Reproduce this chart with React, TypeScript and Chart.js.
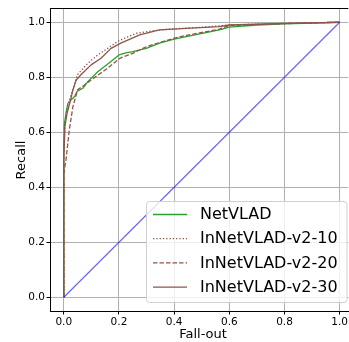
import React, { useEffect, useRef } from "react";
import { Chart, registerables } from "chart.js";

Chart.register(...registerables);

const FONT = "'DejaVu Sans', sans-serif";

const seriesLabels = ["NetVLAD", "InNetVLAD-v2-10", "InNetVLAD-v2-20", "InNetVLAD-v2-30"];

const netvladFpr = [0, 0, 0.002, 0.008, 0.015, 0.026, 0.039, 0.048, 0.069, 0.087, 0.123, 0.171, 0.2, 0.225, 0.25, 0.299, 0.347, 0.4, 0.444, 0.564, 0.6, 0.7, 0.8, 0.9, 1.0];
const netvladTpr = [0, 0.55, 0.63, 0.67, 0.705, 0.717, 0.73, 0.748, 0.76, 0.784, 0.82, 0.857, 0.881, 0.889, 0.893, 0.905, 0.924, 0.939, 0.948, 0.972, 0.982, 0.99, 0.994, 0.997, 1.0];

const v210Fpr = [0, 0, 0.004, 0.015, 0.028, 0.05, 0.087, 0.123, 0.159, 0.195, 0.225, 0.263, 0.347, 0.4, 0.5, 0.6, 0.7, 0.8, 0.9, 1.0];
const v210Tpr = [0, 0.5, 0.63, 0.7, 0.74, 0.81, 0.851, 0.881, 0.905, 0.93, 0.944, 0.96, 0.972, 0.976, 0.982, 0.99, 0.993, 0.996, 0.998, 1.0];

const v220Fpr = [0, 0, 0.008, 0.02, 0.033, 0.05, 0.075, 0.099, 0.159, 0.203, 0.25, 0.299, 0.359, 0.4, 0.444, 0.564, 0.6, 0.7, 0.8, 0.9, 1.0];
const v220Tpr = [0, 0.45, 0.5, 0.608, 0.693, 0.754, 0.772, 0.79, 0.833, 0.869, 0.887, 0.911, 0.93, 0.942, 0.952, 0.975, 0.988, 0.992, 0.995, 0.998, 1.0];

const v230Fpr = [0, 0, 0.004, 0.012, 0.02, 0.026, 0.033, 0.045, 0.063, 0.099, 0.135, 0.171, 0.207, 0.275, 0.347, 0.444, 0.564, 0.6, 0.7, 0.8, 0.9, 1.0];
const v230Tpr = [0, 0.5, 0.62, 0.67, 0.7, 0.723, 0.754, 0.79, 0.81, 0.845, 0.869, 0.905, 0.924, 0.954, 0.972, 0.978, 0.984, 0.99, 0.993, 0.996, 0.998, 1.0];

const chanceFpr = [0, 1];
const chanceTpr = [0, 1];

const xTicks = [0, 0.2, 0.4, 0.6, 0.8, 1.0];
const yTicks = [0, 0.2, 0.4, 0.6, 0.8, 1.0];

const xTitle = "Fall-out";
const yTitle = "Recall";

const zip = (xs: number[], ys: number[]) => xs.map((x, i) => ({ x, y: ys[i] }));

const GREEN = "#2ca02c";
const BROWN = "#8c564b";

const overlayPlugin = {
  id: "overlay",
  afterDraw(chart: any) {
    const ctx = chart.ctx as CanvasRenderingContext2D;
    const a = chart.chartArea;
    ctx.save();
    ctx.strokeStyle = "#000";
    ctx.lineWidth = 1;
    ctx.beginPath();
    ctx.moveTo(a.left, a.top);
    ctx.lineTo(a.right, a.top);
    ctx.stroke();

    ctx.fillStyle = "#000";
    ctx.font = `13px ${FONT}`;
    ctx.textAlign = "center";
    ctx.textBaseline = "alphabetic";
    ctx.fillText(xTitle, 203, 337.5);
    ctx.save();
    ctx.translate(25, 160);
    ctx.rotate(-Math.PI / 2);
    ctx.fillText(yTitle, 0, 0);
    ctx.restore();

    const bx = 146.5, by = 201.5, bw = 200.5, bh = 101, r = 3;
    ctx.beginPath();
    ctx.moveTo(bx + r, by);
    ctx.lineTo(bx + bw - r, by);
    ctx.quadraticCurveTo(bx + bw, by, bx + bw, by + r);
    ctx.lineTo(bx + bw, by + bh - r);
    ctx.quadraticCurveTo(bx + bw, by + bh, bx + bw - r, by + bh);
    ctx.lineTo(bx + r, by + bh);
    ctx.quadraticCurveTo(bx, by + bh, bx, by + bh - r);
    ctx.lineTo(bx, by + r);
    ctx.quadraticCurveTo(bx, by, bx + r, by);
    ctx.closePath();
    ctx.fillStyle = "rgba(255,255,255,0.8)";
    ctx.fill();
    ctx.strokeStyle = "#d0d0d0";
    ctx.lineWidth = 1;
    ctx.stroke();

    ctx.font = `16px ${FONT}`;
    ctx.textAlign = "left";
    ctx.textBaseline = "middle";
    for (let i = 0; i < seriesLabels.length; i++) {
      const ds = chart.data.datasets[i];
      const y = 214.5 + i * 24.2;
      ctx.strokeStyle = ds.borderColor;
      ctx.lineWidth = ds.borderWidth;
      ctx.setLineDash(ds.borderDash || []);
      ctx.beginPath();
      ctx.moveTo(153, y);
      ctx.lineTo(187, y);
      ctx.stroke();
      ctx.setLineDash([]);
      ctx.fillStyle = "#000";
      ctx.fillText(seriesLabels[i], 200, y + 0.5);
    }
    ctx.restore();
  },
};

export default function App() {
  const ref = useRef<HTMLCanvasElement | null>(null);
  useEffect(() => {
    if (!ref.current) return;
    const common = { fill: false, pointRadius: 0, tension: 0, borderJoinStyle: "round" as const };
    const chart = new Chart(ref.current, {
      type: "line",
      data: {
        datasets: [
          { ...common, label: seriesLabels[0], data: zip(netvladFpr, netvladTpr), borderColor: GREEN, borderWidth: 1.3, order: 4 },
          { ...common, label: seriesLabels[1], data: zip(v210Fpr, v210Tpr), borderColor: BROWN, borderWidth: 1.3, borderDash: [1.3, 2], order: 3 },
          { ...common, label: seriesLabels[2], data: zip(v220Fpr, v220Tpr), borderColor: BROWN, borderWidth: 1.3, borderDash: [4.5, 2], order: 2 },
          { ...common, label: seriesLabels[3], data: zip(v230Fpr, v230Tpr), borderColor: BROWN, borderWidth: 1.3, order: 1 },
          { ...common, label: "chance", data: zip(chanceFpr, chanceTpr), borderColor: "rgba(0,0,255,0.6)", borderWidth: 1.2, order: 0 },
        ],
      },
      options: {
        animation: false,
        responsive: false,
        devicePixelRatio: 1,
        layout: { padding: { top: 8.5, right: 0, left: 0, bottom: 0 } },
        plugins: { legend: { display: false }, tooltip: { enabled: false } },
        scales: {
          x: {
            type: "linear",
            min: -0.05,
            max: 1.0314,
            afterFit: (s: any) => { s.height = 31; },
            afterBuildTicks: (s: any) => { s.ticks = xTicks.map((v) => ({ value: v })); },
            ticks: {
              callback: (v: any) => Number(v).toFixed(1),
              font: { family: FONT, size: 10.5 },
              color: "#000",
              padding: 1,
              maxRotation: 0,
              autoSkip: false,
            },
            grid: { color: "#b0b0b0", lineWidth: 1, drawTicks: true, tickLength: 3.5, tickColor: "#000" },
            border: { display: true, color: "#000", width: 1 },
          },
          y: {
            type: "linear",
            min: -0.05,
            max: 1.05,
            afterFit: (s: any) => { s.width = 50; },
            afterBuildTicks: (s: any) => { s.ticks = yTicks.map((v) => ({ value: v })); },
            ticks: {
              callback: (v: any) => Number(v).toFixed(1),
              font: { family: FONT, size: 10.5 },
              color: "#000",
              padding: 1.5,
              autoSkip: false,
            },
            grid: { color: "#b0b0b0", lineWidth: 1, drawTicks: true, tickLength: 3.5, tickColor: "#000" },
            border: { display: true, color: "#000", width: 1 },
          },
        },
      },
      plugins: [overlayPlugin],
    });
    return () => chart.destroy();
  }, []);
  return (
    <div style={{ position: "fixed", left: 0, top: 0, width: 349, height: 342, background: "#fff" }}>
      <canvas ref={ref} width={349} height={342} />
    </div>
  );
}
